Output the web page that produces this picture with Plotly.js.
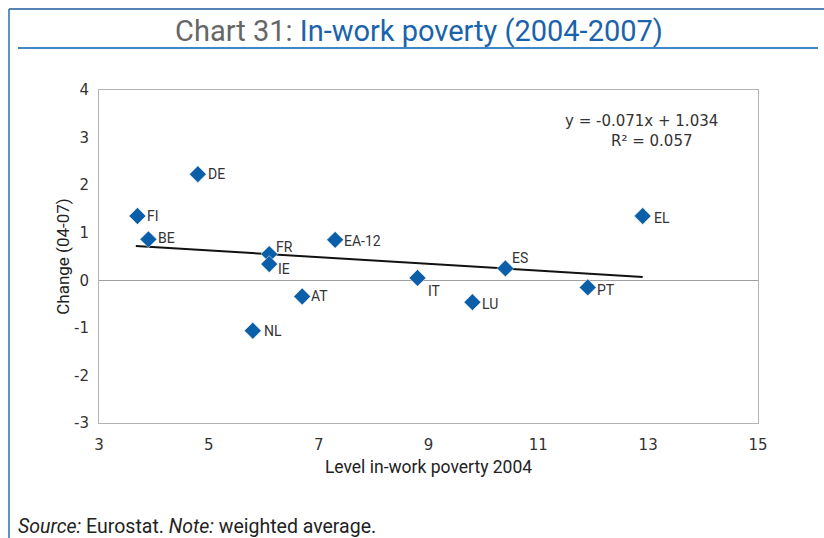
<!DOCTYPE html>
<html>
<head>
<meta charset="utf-8">
<script src="https://cdn.plot.ly/plotly-3.0.1.min.js"></script>
<style>
html,body{margin:0;padding:0;background:#fff;}
#chart{width:824px;height:538px;}
</style>
</head>
<body>
<div id="chart"></div>
<script>
// ---- data ----
const countries = ["FI","BE","DE","FR","IE","AT","NL","EA-12","IT","LU","ES","PT","EL"];
const level2004 = [3.7, 3.9, 4.8, 6.1, 6.1, 6.7, 5.8, 7.3, 8.8, 9.8, 10.4, 11.9, 12.9];
const change0407 = [1.35, 0.86, 2.23, 0.55, 0.34, -0.34, -1.06, 0.85, 0.05, -0.46, 0.25, -0.15, 1.35];
const trendX = [3.67, 12.9];
const trendY = [0.72, 0.07];
const equationText = "y = -0.071x + 1.034";
const r2Text = "R² = 0.057";
const xTickVals = [3,5,7,9,11,13,15];
const yTickVals = [-3,-2,-1,0,1,2,3,4];
const yTickText = ["-3","-2","-1","0","1","2","3","4"];

// ---- styling: label offsets in pixels (right, down) from each marker ----
const labelOffset = {
  "FI":[9,0], "BE":[9,-1], "DE":[9,0], "FR":[6,-7], "IE":[8,5], "AT":[8,0],
  "NL":[10,0], "EA-12":[8,1], "IT":[9,13], "LU":[9,2], "ES":[6,-10], "PT":[8,3], "EL":[10,2]
};

// plot area in pixels
const W = 824, H = 538;
const PL = 99, PR = 758, PT = 90, PB = 423;
const px = x => (x - PL) / (PR - PL);
const py = y => (PB - y) / (PB - PT);

const blue = "#0b5fa8";
const narrow = "Roboto, Open Sans, sans-serif";
const dejavu = "DejaVu Sans, Verdana, sans-serif";

const traces = [
  {
    x: trendX, y: trendY, mode: "lines", type: "scatter",
    line: {color: "#111", width: 2}, hoverinfo: "skip", showlegend: false
  },
  {
    x: level2004, y: change0407, mode: "markers", type: "scatter",
    marker: {symbol: "diamond", size: 13, color: blue, line: {color: "#fff", width: 0.5}},
    showlegend: false, cliponaxis: false
  }
];

const pointLabels = countries.map((c, i) => ({
  xref: "x", yref: "y", x: level2004[i], y: change0407[i], text: c, showarrow: false,
  xanchor: "left", yanchor: "middle", borderpad: 0,
  xshift: labelOffset[c][0], yshift: -labelOffset[c][1],
  font: {family: narrow, size: 14, color: "#333"}
}));

const layout = {
  width: W, height: H,
  margin: {l: PL, r: W - PR, t: PT, b: H - PB, pad: 0},
  paper_bgcolor: "#fff", plot_bgcolor: "#fff",
  showlegend: false,
  title: {
    text: '<span style="color:#666666">Chart 31:</span> In-work poverty (2004-2007)',
    font: {family: narrow, size: 29, color: "#1a63ab"},
    xref: "container", x: 419 / W, xanchor: "center",
    yref: "container", y: 1 - 31 / H, yanchor: "middle"
  },
  xaxis: {
    range: [3, 15], tickvals: xTickVals, showgrid: false, zeroline: false,
    showline: true, mirror: true, linecolor: "#b3b3b3", linewidth: 1,
    ticks: "outside", ticklen: 8, tickcolor: "rgba(0,0,0,0)",
    tickfont: {family: dejavu, size: 15, color: "#333"},
    title: {text: "Level in-work poverty 2004", font: {family: narrow, size: 17.5, color: "#222"}, standoff: 7}
  },
  yaxis: {
    range: [-3, 4], tickvals: yTickVals, ticktext: yTickText, showgrid: false,
    zeroline: true, zerolinecolor: "#a0a0a0", zerolinewidth: 1,
    showline: true, mirror: true, linecolor: "#b3b3b3", linewidth: 1,
    ticks: "outside", ticklen: 6, tickcolor: "rgba(0,0,0,0)",
    tickfont: {family: dejavu, size: 15, color: "#333"},
    title: {text: "Change (04-07)", font: {family: narrow, size: 17, color: "#222"}, standoff: 0}
  },
  annotations: pointLabels.concat([
    {xref: "paper", yref: "paper", x: px(641), y: py(121), text: equationText, showarrow: false,
     font: {family: dejavu, size: 15, color: "#333"}, xanchor: "center", yanchor: "middle"},
    {xref: "paper", yref: "paper", x: px(651), y: py(141), text: r2Text, showarrow: false,
     font: {family: dejavu, size: 15, color: "#333"}, xanchor: "center", yanchor: "middle"},
    {xref: "paper", yref: "paper", x: px(16), y: py(526), xanchor: "left", yanchor: "middle",
     text: "<i>Source:</i> Eurostat. <i>Note:</i> weighted average.", showarrow: false,
     font: {family: narrow, size: 19.5, color: "#222"}}
  ]),
  shapes: [
    {type: "line", xref: "paper", yref: "paper", x0: px(9), x1: px(824), y0: py(9), y1: py(9),
     line: {color: "#1d5a9e", width: 1.5}},
    {type: "line", xref: "paper", yref: "paper", x0: px(9), x1: px(9), y0: py(9), y1: py(538),
     line: {color: "#2a6db5", width: 1.5}},
    {type: "line", xref: "paper", yref: "paper", x0: px(18), x1: px(818), y0: py(48), y1: py(48),
     line: {color: "#3f86c6", width: 2}}
  ]
};

Plotly.newPlot("chart", traces, layout, {staticPlot: true, displayModeBar: false});
</script>
</body>
</html>
